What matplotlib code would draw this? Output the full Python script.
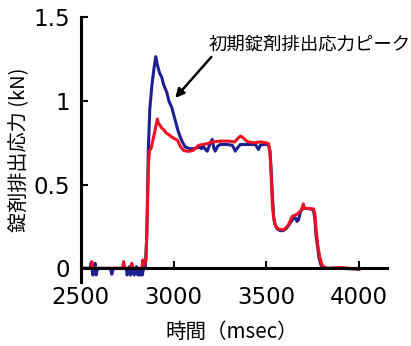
import matplotlib
matplotlib.use("Agg")
import matplotlib.pyplot as plt

jp = ['Noto Sans CJK JP', 'DejaVu Sans']

# time (msec) / ejection force (kN)
t_blue = [2500, 2550, 2556, 2565, 2572, 2577, 2583, 2590, 2600, 2660, 2667, 2675,
          2745, 2750, 2757, 2762, 2768, 2775, 2780, 2788, 2795, 2800, 2808, 2815,
          2820, 2826, 2832, 2838, 2848, 2856, 2864, 2872, 2883, 2893, 2904, 2912,
          2924, 2937, 2946, 2964, 2975, 2991, 3003, 3015, 3025, 3036, 3048, 3063,
          3075, 3090, 3110, 3128, 3140, 3150, 3160, 3172, 3182, 3195, 3209, 3217,
          3225, 3238, 3252, 3290, 3317, 3325, 3333, 3345, 3360, 3420, 3441, 3450,
          3458, 3468, 3480, 3506, 3514, 3520, 3526, 3533, 3540, 3548, 3560, 3575,
          3590, 3605, 3620, 3635, 3648, 3658, 3666, 3674, 3685, 3700, 3740, 3755,
          3762, 3768, 3778, 3785, 3795, 3805, 3830, 3900, 4000]
f_blue = [0, 0, 0.035, -0.04, 0.0, 0.03, -0.04, 0.0, 0, 0, -0.035, 0,
          0, -0.04, 0.0, 0.01, -0.04, 0.0, 0.01, -0.04, 0.0, 0.01, -0.04, 0.0,
          -0.04, 0.0, -0.04, 0.0, 0.01, 0.2, 0.7, 0.95, 1.09, 1.18, 1.265, 1.22,
          1.17, 1.14, 1.10, 1.05, 1.00, 0.96, 0.91, 0.86, 0.82, 0.785, 0.755, 0.725,
          0.72, 0.715, 0.715, 0.72, 0.725, 0.715, 0.73, 0.71, 0.70, 0.74, 0.77, 0.72,
          0.70, 0.73, 0.74, 0.74, 0.735, 0.72, 0.70, 0.72, 0.74, 0.74, 0.74, 0.725,
          0.71, 0.735, 0.74, 0.74, 0.73, 0.70, 0.60, 0.44, 0.31, 0.26, 0.235, 0.225,
          0.225, 0.235, 0.255, 0.28, 0.30, 0.30, 0.28, 0.29, 0.34, 0.36, 0.355, 0.345,
          0.30, 0.20, 0.12, 0.06, 0.02, 0.005, 0.0, 0.0, -0.005]

t_red = [2500, 2550, 2556, 2559, 2563, 2600, 2725, 2731, 2737, 2770, 2775, 2780,
         2830, 2835, 2842, 2848, 2852, 2858, 2865, 2870, 2880, 2889, 2898, 2905,
         2913, 2918, 2924, 2935, 2946, 2960, 2973, 2990, 3005, 3022, 3036, 3054,
         3070, 3090, 3106, 3120, 3135, 3160, 3182, 3209, 3252, 3300, 3330, 3350,
         3362, 3375, 3398, 3430, 3470, 3500, 3512, 3520, 3527, 3533, 3541, 3552,
         3566, 3586, 3600, 3620, 3640, 3660, 3674, 3690, 3700, 3705, 3755, 3762,
         3770, 3778, 3788, 3798, 3808, 3830, 3900, 3950, 4000]
f_red = [0, 0, 0.0, 0.04, 0.0, 0, 0, 0.04, 0.0, 0.0, 0.03, 0.0,
         0.0, 0.05, 0.02, 0.04, 0.05, 0.3, 0.62, 0.7, 0.72, 0.767, 0.81, 0.85,
         0.892, 0.865, 0.86, 0.84, 0.83, 0.81, 0.80, 0.785, 0.775, 0.765, 0.73, 0.705,
         0.70, 0.70, 0.705, 0.72, 0.735, 0.74, 0.745, 0.755, 0.76, 0.76, 0.755, 0.78,
         0.79, 0.78, 0.757, 0.75, 0.755, 0.75, 0.745, 0.70, 0.55, 0.38, 0.29, 0.25,
         0.235, 0.23, 0.235, 0.26, 0.31, 0.32, 0.33, 0.35, 0.385, 0.36, 0.355, 0.33,
         0.22, 0.14, 0.07, 0.03, 0.01, 0.0, 0.005, 0.0, -0.005]

xticks = [2500, 3000, 3500, 4000]
yticks = [0, 0.5, 1, 1.5]
ytick_labels = ['0', '0.5', '1', '1.5']

fig = plt.figure(figsize=(4.11, 3.46), dpi=100)
ax = fig.add_axes([0.1966, 0.1858, 0.7444, 0.7642])

ax.plot(t_blue, f_blue, color='#1c2090', lw=2.2, solid_joinstyle='round')
ax.plot(t_red, f_red, color='#ee1122', lw=2.2, solid_joinstyle='round')

ax.set_xlim(2500, 4150)
ax.set_ylim(-0.08, 1.5)

for s in ['top', 'right']:
    ax.spines[s].set_visible(False)
ax.spines['bottom'].set_position(('data', 0))
ax.spines['left'].set_linewidth(2.2)
ax.spines['bottom'].set_linewidth(2.2)

ax.set_xticks(xticks)
ax.set_yticks(yticks)
ax.set_yticklabels(ytick_labels)
ax.tick_params(axis='both', direction='in', length=5, width=1.5, labelsize=16.5)
ax.tick_params(axis='x', pad=13)
ax.tick_params(axis='y', pad=8)

fig.text(20 / 411, 1 - 150 / 346, '錠剤排出応力 (kN)', rotation=90,
         ha='center', va='center', fontsize=14.5, family=jp)
fig.text(232 / 411, 1 - 332 / 346, '時間（msec）', ha='center', va='center',
         fontsize=14.8, family=jp)

ax.text(3188, 1.335, '初期錠剤排出応力ピーク', ha='left', va='center',
        fontsize=13.2, family=jp)
ax.annotate('', xy=(3009, 1.018), xytext=(3204, 1.263),
            arrowprops=dict(arrowstyle='-|>', color='black', lw=1.8,
                            mutation_scale=13, shrinkA=0, shrinkB=0))

fig.savefig('out.png', dpi=100)
